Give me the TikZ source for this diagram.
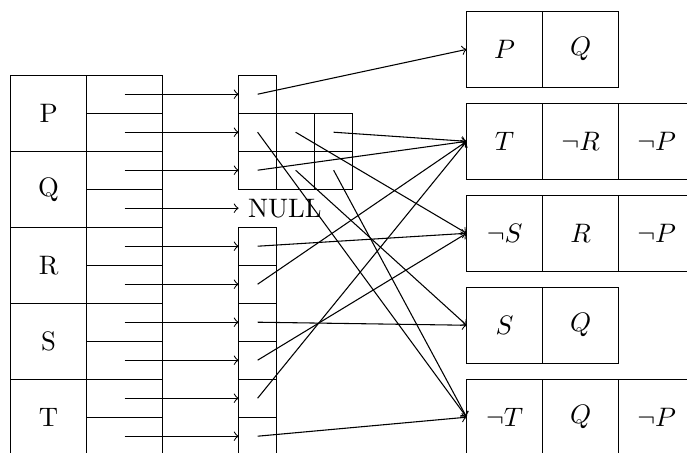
\documentclass[tikz,border=0pt]{standalone}
\usepackage{tikz}
\usepackage{amsmath}

\begin{document}
\begin{tikzpicture}[
  box/.style={draw, inner sep=0pt, outer sep=0pt, minimum width=1cm, minimum height=1cm},
  half/.style={box, minimum height=0.5cm},
  ptr/.style={box, minimum width=0.5cm, minimum height=0.5cm}]
  \useasboundingbox (-0.14, 0.03) rectangle (8.9, 5.99);
  \clip (-0.14, 0.03) rectangle (8.9, 5.99);

  \node[box] (P) at (0.5, 4.5) {P};
  \node[box] (Q) at (0.5, 3.5) {Q};
  \node[box] (R) at (0.5, 2.5) {R};
  \node[box] (S) at (0.5, 1.5) {S};
  \node[box] (T) at (0.5, 0.5) {T};

  \node[half] (Pp) at (1.5, 4.75) {};
  \node[half] (Pn) at (1.5, 4.25) {};
  \node[half] (Qp) at (1.5, 3.75) {};
  \node[half] (Qn) at (1.5, 3.25) {};
  \node[half] (Rp) at (1.5, 2.75) {};
  \node[half] (Rn) at (1.5, 2.25) {};
  \node[half] (Sp) at (1.5, 1.75) {};
  \node[half] (Sn) at (1.5, 1.25) {};
  \node[half] (Tp) at (1.5, 0.75) {};
  \node[half] (Tn) at (1.5, 0.25) {};

  \node[ptr] (a) at (3.25, 4.75) {};
  \node[ptr] (b1) at (3.25, 4.25) {};
  \node[ptr] (b2) at (3.75, 4.25) {};
  \node[ptr] (b3) at (4.25, 4.25) {};
  \node[ptr] (c1) at (3.25, 3.75) {};
  \node[ptr] (c2) at (3.75, 3.75) {};
  \node[ptr] (c3) at (4.25, 3.75) {};
  \node[anchor=west] (null) at (3, 3.25) {NULL};
  \node[ptr] (d1) at (3.25, 2.75) {};
  \node[ptr] (d2) at (3.25, 2.25) {};
  \node[ptr] (d3) at (3.25, 1.75) {};
  \node[ptr] (d4) at (3.25, 1.25) {};
  \node[ptr] (d5) at (3.25, 0.75) {};
  \node[ptr] (d6) at (3.25, 0.25) {};

  \node[box] (k1a) at (6.5, 5.34) {$P$};
  \node[box] (k1b) at (7.5, 5.34) {$Q$};
  \node[box] (k2a) at (6.5, 4.13) {$T$};
  \node[box] (k2b) at (7.5, 4.13) {$\neg R$};
  \node[box] (k2c) at (8.5, 4.13) {$\neg P$};
  \node[box] (k3a) at (6.5, 2.92) {$\neg S$};
  \node[box] (k3b) at (7.5, 2.92) {$R$};
  \node[box] (k3c) at (8.5, 2.92) {$\neg P$};
  \node[box] (k4a) at (6.5, 1.71) {$S$};
  \node[box] (k4b) at (7.5, 1.71) {$Q$};
  \node[box] (k5a) at (6.5, 0.5) {$\neg T$};
  \node[box] (k5b) at (7.5, 0.5) {$Q$};
  \node[box] (k5c) at (8.5, 0.5) {$\neg P$};

  \draw[->] (Pp.center) -- (a);
  \draw[->] (Pn.center) -- (b1);
  \draw[->] (Qp.center) -- (c1);
  \draw[->] (Qn.center) -- (null);
  \draw[->] (Rp.center) -- (d1);
  \draw[->] (Rn.center) -- (d2);
  \draw[->] (Sp.center) -- (d3);
  \draw[->] (Sn.center) -- (d4);
  \draw[->] (Tp.center) -- (d5);
  \draw[->] (Tn.center) -- (d6);

  \draw[->] (a.center) -- (k1a.west);
  \draw[->] (b1.center) -- (k5a.west);
  \draw[->] (b2.center) -- (k3a.west);
  \draw[->] (b3.center) -- (k2a.west);
  \draw[->] (c1.center) -- (k2a.west);
  \draw[->] (c2.center) -- (k4a.west);
  \draw[->] (c3.center) -- (k5a.west);
  \draw[->] (d1.center) -- (k3a.west);
  \draw[->] (d2.center) -- (k2a.west);
  \draw[->] (d3.center) -- (k4a.west);
  \draw[->] (d4.center) -- (k3a.west);
  \draw[->] (d5.center) -- (k2a.west);
  \draw[->] (d6.center) -- (k5a.west);
\end{tikzpicture}
\end{document}
